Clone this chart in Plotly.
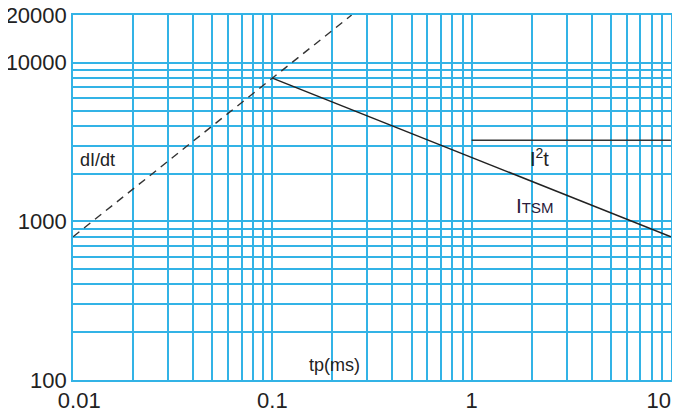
import plotly.graph_objects as go

# Data
didt_t = [0.01, 0.25]
didt_i = [800, 20000]
itsm_t = [0.1, 10]
itsm_i = [8000, 800]
i2t_t = [1, 10]
i2t_i = [3250, 3250]

# Tick labels (decades only carry text)
x_decades = [0.01, 0.1, 1]
x_label_text = {0.01: "\u00a0\u00a00.01", 0.1: "0.1", 1: "1", 10: "10\u00a0\u00a0\u00a0\u00a0"}
y_decades = [100, 1000]
y_label_text = {100: "100", 1000: "1000", 10000: "10000", 20000: "20000"}

multipliers = [1, 2, 3, 4, 5, 6, 7, 8, 9]

x_tickvals = [round(d * m, 6) for d in x_decades for m in multipliers] + [10]
x_ticktext = [x_label_text.get(v, "") for v in x_tickvals]
y_tickvals = [round(d * m, 6) for d in y_decades for m in multipliers] + [10000, 20000]
y_ticktext = [y_label_text.get(v, "") for v in y_tickvals]

GRID = "#33b3e6"
INK = "#222222"
FONT = "Liberation Sans, Arial, sans-serif"

fig = go.Figure()
fig.add_trace(go.Scatter(x=didt_t, y=didt_i, mode="lines",
                         line=dict(color="#333333", width=1.4, dash="8px,6px"),
                         showlegend=False, hoverinfo="skip"))
fig.add_trace(go.Scatter(x=itsm_t, y=itsm_i, mode="lines",
                         line=dict(color=INK, width=1.5),
                         showlegend=False, hoverinfo="skip"))
fig.add_trace(go.Scatter(x=i2t_t, y=i2t_i, mode="lines",
                         line=dict(color="#333333", width=1.5),
                         showlegend=False, hoverinfo="skip"))

fig.add_annotation(x=-1.88, y=3.387, xref="x", yref="y", text="dI/dt",
                   showarrow=False, font=dict(size=18, color=INK, family=FONT))
fig.add_annotation(x=0.343, y=3.40, xref="x", yref="y", text="I<sup>2</sup>t",
                   showarrow=False, font=dict(size=20, color=INK, family=FONT))
fig.add_annotation(x=0.318, y=3.103, xref="x", yref="y",
                   text="I<span style='font-size:15px'>TSM</span>",
                   showarrow=False, font=dict(size=21, color="#2a1a3a", family=FONT))
fig.add_annotation(x=-0.686, y=2.095, xref="x", yref="y", text="tp(ms)",
                   showarrow=False, font=dict(size=18, color=INK, family=FONT))

common = dict(type="log", showgrid=True, gridcolor=GRID, gridwidth=1.6,
              showline=True, linecolor=GRID, linewidth=1.6, mirror=True,
              ticks="", tickfont=dict(size=22, color=INK, family=FONT),
              zeroline=False, automargin=False, tickmode="array",
              ticklabeloverflow="allow")
fig.update_xaxes(range=[-2.0005, 1.0005], tickvals=x_tickvals, ticktext=x_ticktext, **common)
fig.update_yaxes(range=[1.9995, 4.3013], tickvals=y_tickvals, ticktext=y_ticktext, **common)

# page body has an 8px default margin, so the figure is sized/offset to compensate
fig.update_layout(width=672, height=403,
                  margin=dict(l=65, r=9, t=7, b=31),
                  paper_bgcolor="white", plot_bgcolor="white",
                  font=dict(family=FONT, color=INK))

fig.write_html("out.html")
